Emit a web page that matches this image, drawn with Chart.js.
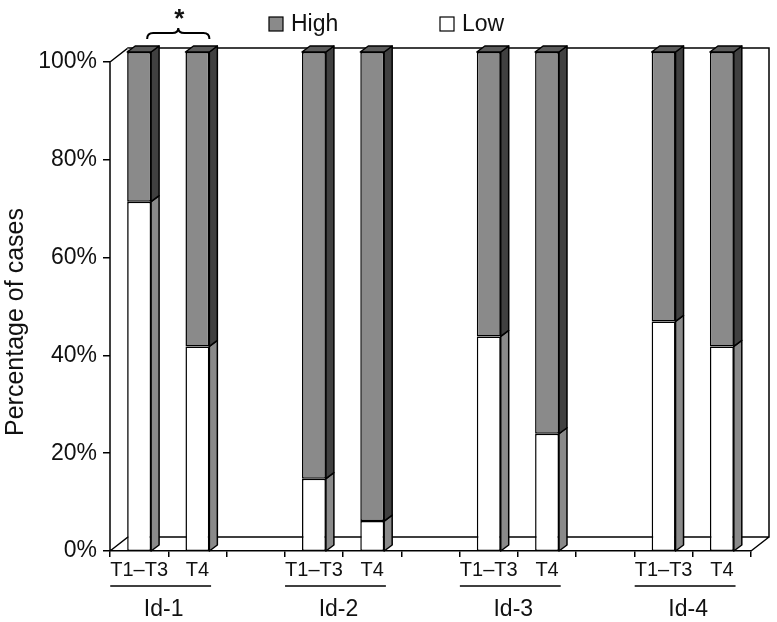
<!DOCTYPE html>
<html lang="en">
<head>
<meta charset="UTF-8">
<title>Percentage of cases</title>
<script src="https://cdn.jsdelivr.net/npm/chart.js"></script>
<style>
  body { margin: 0; background: #fff; }
</style>
</head>
<body>
<canvas id="chart" width="777" height="622"></canvas>
<script>
// one slot per bar, empty slots keep the groups apart
const tLabels = ['T1–T3', 'T4', '', 'T1–T3', 'T4', '', 'T1–T3', 'T4', '', 'T1–T3', 'T4'];
const groupLabels = ['Id-1', 'Id-2', 'Id-3', 'Id-4'];
const groupStart = [0, 3, 6, 9];
const lowValues = [70, 41, null, 14.5, 6, null, 43, 23.5, null, 46, 41];
const highValues = [30, 59, null, 85.5, 94, null, 57, 76.5, null, 54, 59];
const yTicks = [0, 20, 40, 60, 80, 100];

const FONT = '"Liberation Sans", Arial, Helvetica, sans-serif';

// 3D look: walls, bar sides and tops, legend, brace, group labels
const fake3d = {
  id: 'fake3d',
  beforeDatasetsDraw(chart) {
    const { ctx, chartArea: a, scales: { yl } } = chart;
    const x0 = a.left, y0 = a.bottom, x1 = a.right, yTop = yl.getPixelForValue(100);
    const dx = 18, dy = -14;
    ctx.save();
    ctx.strokeStyle = '#000';
    ctx.lineWidth = 1.5;
    ctx.beginPath();
    ctx.moveTo(x0, y0);
    ctx.lineTo(x0, yTop);
    ctx.lineTo(x0 + dx, yTop + dy);
    ctx.lineTo(x1 + dx, yTop + dy);
    ctx.lineTo(x1 + dx, y0 + dy);
    ctx.lineTo(x0 + dx, y0 + dy);
    ctx.lineTo(x0, y0);
    ctx.moveTo(x1, y0);
    ctx.lineTo(x1 + dx, y0 + dy);
    ctx.stroke();
    ctx.strokeStyle = '#999';
    ctx.lineWidth = 1;
    ctx.beginPath();
    ctx.moveTo(x0 + dx, yTop + dy);
    ctx.lineTo(x0 + dx, y0 + dy);
    ctx.stroke();
    ctx.restore();
  },
  afterDatasetsDraw(chart) {
    const { ctx } = chart;
    const dx = 8, dy = -6;
    const sides = ['#8a8a8a', '#404040'];
    const last = chart.data.datasets.length - 1;
    ctx.save();
    ctx.strokeStyle = '#000';
    ctx.lineWidth = 1.5;
    ctx.lineJoin = 'round';
    chart.data.datasets.forEach((ds, di) => {
      chart.getDatasetMeta(di).data.forEach((bar, i) => {
        if (ds.data[i] == null) return;
        const { x, y, base, width } = bar.getProps(['x', 'y', 'base', 'width'], true);
        const l = x - width / 2, r = x + width / 2;
        ctx.fillStyle = sides[di];
        ctx.beginPath();
        ctx.moveTo(r, y);
        ctx.lineTo(r + dx, y + dy);
        ctx.lineTo(r + dx, base + dy);
        ctx.lineTo(r, base);
        ctx.closePath();
        ctx.fill();
        ctx.stroke();
        if (di === last) {
          ctx.fillStyle = '#5c5c5c';
          ctx.beginPath();
          ctx.moveTo(l, y);
          ctx.lineTo(l + dx, y + dy);
          ctx.lineTo(r + dx, y + dy);
          ctx.lineTo(r, y);
          ctx.closePath();
          ctx.fill();
          ctx.stroke();
        }
      });
    });
    ctx.restore();
  },
  afterDraw(chart) {
    const { ctx, scales: { x } } = chart;
    ctx.save();
    ctx.fillStyle = '#111';
    ctx.strokeStyle = '#000';

    // y axis title
    ctx.save();
    ctx.translate(16, 322);
    ctx.rotate(-Math.PI / 2);
    ctx.font = '25px ' + FONT;
    ctx.textAlign = 'center';
    ctx.textBaseline = 'middle';
    ctx.fillText('Percentage of cases', 0, 0);
    ctx.restore();

    // legend
    ctx.font = '23px ' + FONT;
    ctx.textBaseline = 'alphabetic';
    ctx.lineWidth = 1.2;
    [['High', '#8a8a8a', 269], ['Low', '#ffffff', 440]].forEach(([txt, col, lx]) => {
      ctx.fillStyle = col;
      ctx.fillRect(lx, 17, 14, 14);
      ctx.strokeRect(lx, 17, 14, 14);
      ctx.fillStyle = '#111';
      ctx.fillText(txt, lx + 22, 31);
    });

    // significance brace over Id-1
    const bl = x.getPixelForValue(0) + 8, br = x.getPixelForValue(1) + 12, bm = (bl + br) / 2;
    ctx.lineWidth = 2;
    ctx.beginPath();
    ctx.moveTo(bl, 39);
    ctx.quadraticCurveTo(bl, 33, bl + 6, 33);
    ctx.lineTo(bm - 6, 33);
    ctx.quadraticCurveTo(bm, 33, bm, 28);
    ctx.quadraticCurveTo(bm, 33, bm + 6, 33);
    ctx.lineTo(br - 6, 33);
    ctx.quadraticCurveTo(br, 33, br, 39);
    ctx.stroke();
    ctx.font = 'bold 26px ' + FONT;
    ctx.textAlign = 'center';
    ctx.fillText('*', bm + 1, 27);

    // group labels with underline
    ctx.font = '20px ' + FONT;
    const w1 = ctx.measureText('T1–T3').width, w2 = ctx.measureText('T4').width;
    ctx.font = '23px ' + FONT;
    ctx.lineWidth = 1.5;
    groupLabels.forEach((g, k) => {
      const i = groupStart[k];
      const gl = x.getPixelForValue(i) - w1 / 2;
      const gr = x.getPixelForValue(i + 1) + w2 / 2 + 2;
      ctx.beginPath();
      ctx.moveTo(gl, 586);
      ctx.lineTo(gr, 586);
      ctx.stroke();
      ctx.fillText(g, (gl + gr) / 2 + 3, 616);
    });
    ctx.restore();
  }
};

new Chart(document.getElementById('chart'), {
  type: 'bar',
  data: {
    labels: tLabels,
    datasets: [
      { label: 'Low', data: lowValues, backgroundColor: '#ffffff', yAxisID: 'y' },
      { label: 'High', data: highValues, backgroundColor: '#8a8a8a', yAxisID: 'y' }
    ]
  },
  options: {
    responsive: false,
    animation: false,
    devicePixelRatio: 1,
    layout: { padding: { top: 52, right: 26, left: 0, bottom: 0 } },
    datasets: {
      bar: {
        borderColor: '#000',
        borderWidth: 1.5,
        borderSkipped: false,
        categoryPercentage: 1,
        barPercentage: 0.41
      }
    },
    plugins: {
      legend: { display: false },
      tooltip: { enabled: false }
    },
    scales: {
      x: {
        stacked: true,
        offset: true,
        grid: { offset: true, drawOnChartArea: false, drawTicks: true, tickLength: 6, color: '#000', lineWidth: 1.5 },
        border: { display: true, color: '#000', width: 1.5 },
        ticks: { autoSkip: false, maxRotation: 0, padding: 1, color: '#111', font: { family: FONT, size: 20 } },
        afterFit(s) { s.height = 71; }
      },
      y: {
        stacked: true,
        display: false,
        min: 0,
        max: 100
      },
      yl: {
        position: 'left',
        min: 0,
        max: 102.045,
        afterBuildTicks(s) { s.ticks = yTicks.map(v => ({ value: v })); },
        grid: { drawOnChartArea: false, drawTicks: true, tickLength: 7, color: '#000', lineWidth: 1.5 },
        border: { display: false },
        ticks: { padding: 6, color: '#111', font: { family: FONT, size: 23 }, callback: v => v + '%' },
        afterFit(s) { s.width = 110; }
      }
    }
  },
  plugins: [fake3d]
});
</script>
</body>
</html>
